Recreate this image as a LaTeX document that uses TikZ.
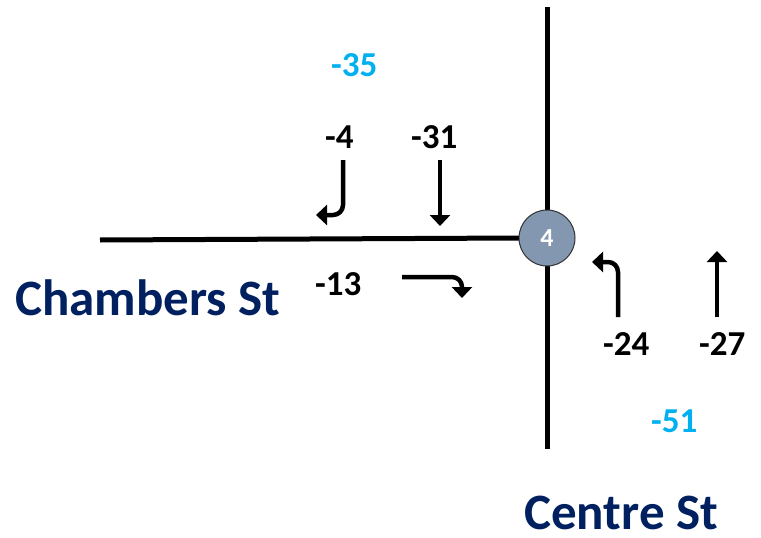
\documentclass[tikz,border=0pt]{standalone}
\usepackage{fontspec}
\setmainfont{Carlito}
\usetikzlibrary{arrows.meta}
\definecolor{navy}{HTML}{002060}
\definecolor{cyanlbl}{HTML}{00B0F0}
\definecolor{circfill}{HTML}{8497B0}
\begin{document}
\begin{tikzpicture}[x=1pt,y=-1pt,
  road/.style={line width=5pt},
  mv/.style={line width=4.5pt,-{Triangle[length=11pt,width=20pt]}},
  num/.style={font=\fontsize{35}{37}\selectfont\bfseries,anchor=base west,inner sep=0pt},
  vol/.style={num,text=cyanlbl},
  street/.style={font=\fontsize{51}{54}\selectfont\bfseries,text=navy,anchor=base west,inner sep=0pt}]
\useasboundingbox (0,0) rectangle (761,538);
% roads
\coordinate (hw) at (100,240);
\coordinate (vn) at (547,7);
\coordinate (vs) at (547,449);
\node[circle,minimum size=56pt,inner sep=0pt] (int) at (547,238) {};
\draw[road] (hw) -- (int.west);
\draw[road] (vn) -- (int.north);
\draw[road] (int.south) -- (vs);
\node[circle,draw=black!80,line width=1pt,fill=circfill,minimum size=56pt,inner sep=0pt,text=white,font=\fontsize{26}{28}\selectfont\bfseries] (intl) at (547,238) {4};
% labels
\node[street] (chambers) at (15,315) {Chambers St};
\node[street] (centre) at (524,529) {Centre St};
\node[vol] (v35) at (331,76) {-35};
\node[vol] (v51) at (651,432) {-51};
\node[num] (n4) at (325,148) {-4};
\node[num] (n31) at (411,148) {-31};
\node[num] (n13) at (315,295) {-13};
\node[num] (n24) at (603,355) {-24};
\node[num] (n27) at (699,355) {-27};
% movement arrows
\coordinate (a4s) at (343,160);
\coordinate (a4e) at (316,215);
\draw[mv] (a4s) -- (343,205) to[out=-90,in=0] (333,215) -- (a4e);
\coordinate (a31s) at (440,160);
\coordinate (a31e) at (440,226);
\draw[mv] (a31s) -- (a31e);
\coordinate (a13s) at (402,277);
\coordinate (a13e) at (462,298);
\draw[mv] (a13s) -- (452,277) to[out=0,in=90] (462,287) -- (a13e);
\coordinate (a24s) at (618,317);
\coordinate (a24e) at (592,262);
\draw[mv] (a24s) -- (618,272) to[out=90,in=0] (608,262) -- (a24e);
\coordinate (a27s) at (717,317);
\coordinate (a27e) at (717,251);
\draw[mv] (a27s) -- (a27e);
\end{tikzpicture}
\end{document}
